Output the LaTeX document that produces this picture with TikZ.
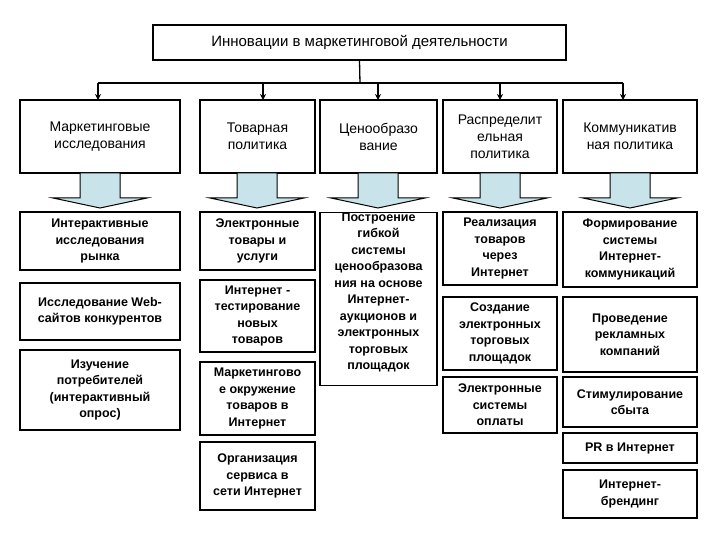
\documentclass[tikz,border=0pt]{standalone}
\usepackage{fontspec}
\setmainfont{Liberation Sans}
\usetikzlibrary{arrows.meta}
\definecolor{arrblue}{HTML}{C8E4EA}
\newcommand{\mybx}[7]{%
 \node[#7,minimum width={(#4-#2)*1pt},minimum height={(#5-#3)*1pt}] (#1) at ({(#2+#4)/2},{(#3+#5)/2}) {#6};}
\newcommand{\myarr}[1]{%
 \fill[fill=arrblue, draw=black, line width=1pt] ({#1-20},173) -- ({#1+20},173) -- ({#1+20},198) -- ({#1+47},198) -- (#1,208) -- ({#1-47},198) -- ({#1-20},198) -- cycle;}
\begin{document}
\begin{tikzpicture}[x=1pt,y=-1pt,
 top/.style={draw,line width=1.3pt,align=center,font=\fontsize{14}{17}\selectfont,inner sep=1pt},
 sub/.style={draw,line width=1.3pt,align=center,font=\bfseries\fontsize{12.5}{16.5}\selectfont,inner sep=1pt},
 con/.style={line width=1.3pt,-{Stealth[length=6pt,width=6pt]}}]
\useasboundingbox (0,0) rectangle (720,540);
\fill[white] (0,0) rectangle (720,540);
\mybx{t}{153}{25}{566}{60}{Инновации в маркетинговой деятельности}{top,font=\fontsize{15}{17}\selectfont}
\mybx{a}{20}{100}{180}{173}{Маркетинговые\\исследования}{top}
\mybx{b}{200}{100}{315}{173}{Товарная\\политика}{top}
\mybx{c}{320}{100}{437}{173}{Ценообразо\\вание}{top}
\mybx{d}{443}{100}{557}{173}{Распределит\\ельная\\политика}{top}
\mybx{e}{563}{100}{697}{173}{Коммуникатив\\ная политика}{top}
\coordinate (j) at (360,83.6);
\draw[line width=1.3pt] (t.south) -- (j);
\draw[line width=1.3pt] (98,83) -- (623,83);
\foreach \x in {98,263,378,500,623}{\draw[con] (\x,83) -- (\x,100);}
\myarr{100}\myarr{257}\myarr{378}\myarr{500}\myarr{630}
\mybx{a1}{20}{212}{180}{270}{Интерактивные\\исследования\\рынка}{sub}
\mybx{a2}{20}{283}{180}{340}{Исследование Web-\\сайтов конкурентов}{sub}
\mybx{a3}{20}{350}{180}{430}{Изучение\\потребителей\\(интерактивный\\опрос)}{sub}
\mybx{b1}{200}{212}{315}{270}{Электронные\\товары и\\услуги}{sub}
\mybx{b2}{200}{280}{315}{352}{Интернет -\\тестирование\\новых\\товаров}{sub}
\mybx{b3}{200}{362}{315}{435}{Маркетингово\\е окружение\\товаров в\\Интернет}{sub}
\mybx{b4}{200}{442}{315}{510}{Организация\\сервиса в\\сети Интернет}{sub}
\node[sub,minimum width=117pt,minimum height=173pt,anchor=north] (c1) at (378.5,212) {};
\node[font=\bfseries\fontsize{12.5}{16.5}\selectfont,align=center,anchor=north] at ([yshift=3pt]c1.north) {Построение\\гибкой\\системы\\ценообразова\\ния на основе\\Интернет-\\аукционов и\\электронных\\торговых\\площадок};
\mybx{d1}{443}{212}{557}{285}{Реализация\\товаров\\через\\Интернет}{sub}
\mybx{d2}{443}{297}{557}{370}{Создание\\электронных\\торговых\\площадок}{sub}
\mybx{d3}{443}{377}{557}{433}{Электронные\\системы\\оплаты}{sub}
\mybx{e1}{563}{212}{697}{287}{Формирование\\системы\\Интернет-\\коммуникаций}{sub}
\mybx{e2}{563}{297}{697}{372}{Проведение\\рекламных\\компаний}{sub}
\mybx{e3}{563}{377}{697}{427}{Стимулирование\\сбыта}{sub}
\mybx{e4}{563}{433}{697}{463}{PR в Интернет}{sub}
\mybx{e5}{563}{470}{697}{518}{Интернет-\\брендинг}{sub}
\end{tikzpicture}
\end{document}
